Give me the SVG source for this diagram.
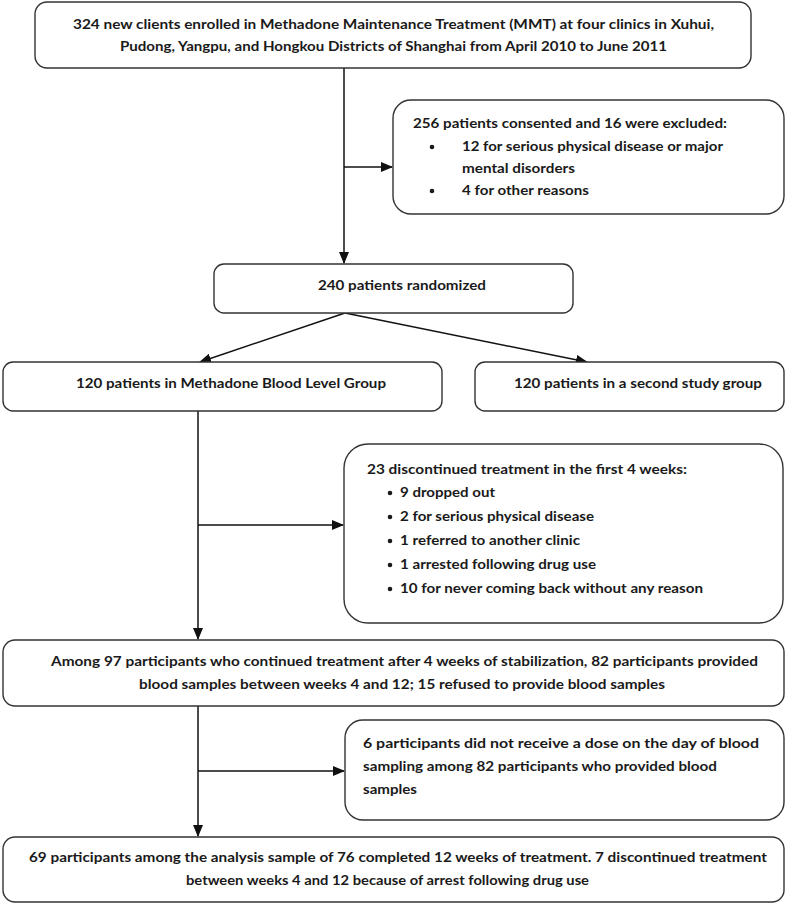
<svg xmlns="http://www.w3.org/2000/svg" width="787" height="905" viewBox="0 0 787 905">
<style>
.box{fill:#fff;stroke:#333;stroke-width:1.4}
.t{font-family:Lato,"Liberation Sans",sans-serif;font-weight:700;font-size:14px;fill:#1a1a1a}
.c{fill:none;stroke:#111;stroke-width:1.5}
.b{fill:#1a1a1a}
</style>
<defs>
<marker id="ah" markerUnits="userSpaceOnUse" markerWidth="12" markerHeight="10" refX="11" refY="5" orient="auto">
<path d="M0,0 L12,5 L0,10 Z" fill="#111"/>
</marker>
</defs>
<rect width="787" height="905" fill="#fff"/>
<g id="connectors">
<path class="c" d="M344 68 V263" marker-end="url(#ah)"/>
<path class="c" d="M344 167 H392" marker-end="url(#ah)"/>
<path class="c" d="M345 313 L200 362" marker-end="url(#ah)"/>
<path class="c" d="M345 313 L587 362" marker-end="url(#ah)"/>
<path class="c" d="M198 411 V639" marker-end="url(#ah)"/>
<path class="c" d="M198 525 H343" marker-end="url(#ah)"/>
<path class="c" d="M198 706 V836" marker-end="url(#ah)"/>
<path class="c" d="M198 771 H344" marker-end="url(#ah)"/>
</g>
<g id="enrolled">
<rect class="box" x="35" y="2" width="716" height="66" rx="12"/>
<text class="t" x="73" y="29" textLength="641" lengthAdjust="spacingAndGlyphs">324 new clients enrolled in Methadone Maintenance Treatment (MMT) at four clinics in Xuhui,</text>
<text class="t" x="120" y="51" textLength="547" lengthAdjust="spacingAndGlyphs">Pudong, Yangpu, and Hongkou Districts of Shanghai from April 2010 to June 2011</text>
</g>
<g id="excluded">
<rect class="box" x="393" y="100" width="391" height="114" rx="18"/>
<text class="t" x="413" y="128" textLength="314" lengthAdjust="spacingAndGlyphs">256 patients consented and 16 were excluded:</text>
<circle class="b" cx="432" cy="147" r="2.3"/>
<text class="t" x="462" y="151" textLength="261" lengthAdjust="spacingAndGlyphs">12 for serious physical disease or major</text>
<text class="t" x="462" y="173" textLength="113" lengthAdjust="spacingAndGlyphs">mental disorders</text>
<circle class="b" cx="432" cy="191" r="2.3"/>
<text class="t" x="462" y="195" textLength="127" lengthAdjust="spacingAndGlyphs">4 for other reasons</text>
</g>
<g id="randomized">
<rect class="box" x="214" y="264" width="359" height="49" rx="10"/>
<text class="t" x="318" y="290" textLength="168" lengthAdjust="spacingAndGlyphs">240 patients randomized</text>
</g>
<g id="group1">
<rect class="box" x="3" y="362" width="439" height="49" rx="10"/>
<text class="t" x="76" y="388" textLength="310" lengthAdjust="spacingAndGlyphs">120 patients in Methadone Blood Level Group</text>
</g>
<g id="group2">
<rect class="box" x="475" y="362" width="309" height="49" rx="10"/>
<text class="t" x="514" y="388" textLength="248" lengthAdjust="spacingAndGlyphs">120 patients in a second study group</text>
</g>
<g id="discontinued">
<rect class="box" x="344" y="444" width="439" height="179" rx="24"/>
<text class="t" x="367" y="474" textLength="320" lengthAdjust="spacingAndGlyphs">23 discontinued treatment in the first 4 weeks:</text>
<circle class="b" cx="390" cy="493" r="2.3"/>
<text class="t" x="400" y="497" textLength="95" lengthAdjust="spacingAndGlyphs">9 dropped out</text>
<circle class="b" cx="390" cy="517" r="2.3"/>
<text class="t" x="400" y="521" textLength="194" lengthAdjust="spacingAndGlyphs">2 for serious physical disease</text>
<circle class="b" cx="390" cy="541" r="2.3"/>
<text class="t" x="400" y="545" textLength="180" lengthAdjust="spacingAndGlyphs">1 referred to another clinic</text>
<circle class="b" cx="390" cy="565" r="2.3"/>
<text class="t" x="400" y="569" textLength="196" lengthAdjust="spacingAndGlyphs">1 arrested following drug use</text>
<circle class="b" cx="390" cy="589" r="2.3"/>
<text class="t" x="400" y="593" textLength="303" lengthAdjust="spacingAndGlyphs">10 for never coming back without any reason</text>
</g>
<g id="continued">
<rect class="box" x="3" y="640" width="781" height="66" rx="12"/>
<text class="t" x="51" y="666" textLength="707" lengthAdjust="spacingAndGlyphs">Among 97 participants who continued treatment after 4 weeks of stabilization, 82 participants provided</text>
<text class="t" x="139" y="689" textLength="526" lengthAdjust="spacingAndGlyphs">blood samples between weeks 4 and 12; 15 refused to provide blood samples</text>
</g>
<g id="nodose">
<rect class="box" x="345" y="720" width="439" height="100" rx="18"/>
<text class="t" x="363" y="748" textLength="396" lengthAdjust="spacingAndGlyphs">6 participants did not receive a dose on the day of blood</text>
<text class="t" x="363" y="771" textLength="354" lengthAdjust="spacingAndGlyphs">sampling among 82 participants who provided blood</text>
<text class="t" x="363" y="794" textLength="54" lengthAdjust="spacingAndGlyphs">samples</text>
</g>
<g id="completed">
<rect class="box" x="3" y="837" width="781" height="65" rx="12"/>
<text class="t" x="29" y="862" textLength="738" lengthAdjust="spacingAndGlyphs">69 participants among the analysis sample of 76 completed 12 weeks of treatment. 7 discontinued treatment</text>
<text class="t" x="186" y="885" textLength="403" lengthAdjust="spacingAndGlyphs">between weeks 4 and 12 because of arrest following drug use</text>
</g>
</svg>
